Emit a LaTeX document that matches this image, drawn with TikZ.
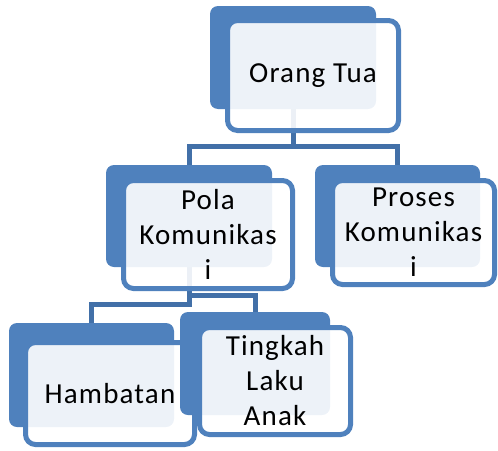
\documentclass[tikz,border=0pt]{standalone}
\usepackage{fontspec}
\setmainfont{Carlito}[LetterSpace=4]
\usepackage{tikz}
\usetikzlibrary{positioning,backgrounds}

\definecolor{boxblue}{RGB}{79,129,189}
\definecolor{linkblue}{RGB}{66,112,168}

\begin{document}
\begin{tikzpicture}[
    x=1pt, y=-1pt,
    back/.style={
        rectangle,
        rounded corners=8pt,
        fill=boxblue,
        draw=none,
        inner sep=0pt
    },
    front/.style={
        rectangle,
        rounded corners=10pt,
        draw=boxblue,
        line width=5pt,
        fill=white,
        fill opacity=0.9,
        text opacity=1,
        inner sep=0pt,
        align=center,
        font=\fontsize{29}{35}\selectfont
    },
    link/.style={
        draw=linkblue,
        line width=5pt
    }
]
    \useasboundingbox (0,0) rectangle (498,450);

    % Top
    \node[back, minimum width=166pt, minimum height=103pt] (ot) at (293, 57.5) {};
    \node[front, minimum width=171pt, minimum height=110pt] (ot_f) at (313, 75.5) {Orang Tua};

    % Second row
    \node[back, minimum width=166pt, minimum height=102pt] (pola) at (189, 216) {};
    \node[front, minimum width=169pt, minimum height=108pt] (pola_f) at (208, 234.5) {Pola\\Komunikas\\i};
    \node[back, minimum width=165pt, minimum height=102pt] (proses) at (397.5, 216) {};
    \node[front, minimum width=162pt, minimum height=104pt] (proses_f) at (413.5, 232.5) {Proses\\Komunikas\\i};

    % Third row
    \node[back, minimum width=165pt, minimum height=104pt] (hamb) at (91.5, 375) {};
    \node[front, minimum width=169pt, minimum height=102pt] (hamb_f) at (110, 393.5) {Hambatan};
    \node[back, minimum width=150pt, minimum height=103pt] (tingkah) at (255, 363.5) {};
    \node[front, minimum width=151pt, minimum height=107pt] (tingkah_f) at (275, 381) {Tingkah\\Laku\\Anak};

    % Connectors
    \begin{scope}[on background layer]
        \draw[link] (ot.south) -- ++(0,37) -| (pola.north);
        \draw[link] (ot.south) -- ++(0,37) -| (proses.north);
        \draw[link] (pola.south) -- ++(0,37) -| (hamb.north);
        \draw[link] (pola.south) -- ++(0,28) -| (tingkah.north);
    \end{scope}
\end{tikzpicture}
\end{document}
